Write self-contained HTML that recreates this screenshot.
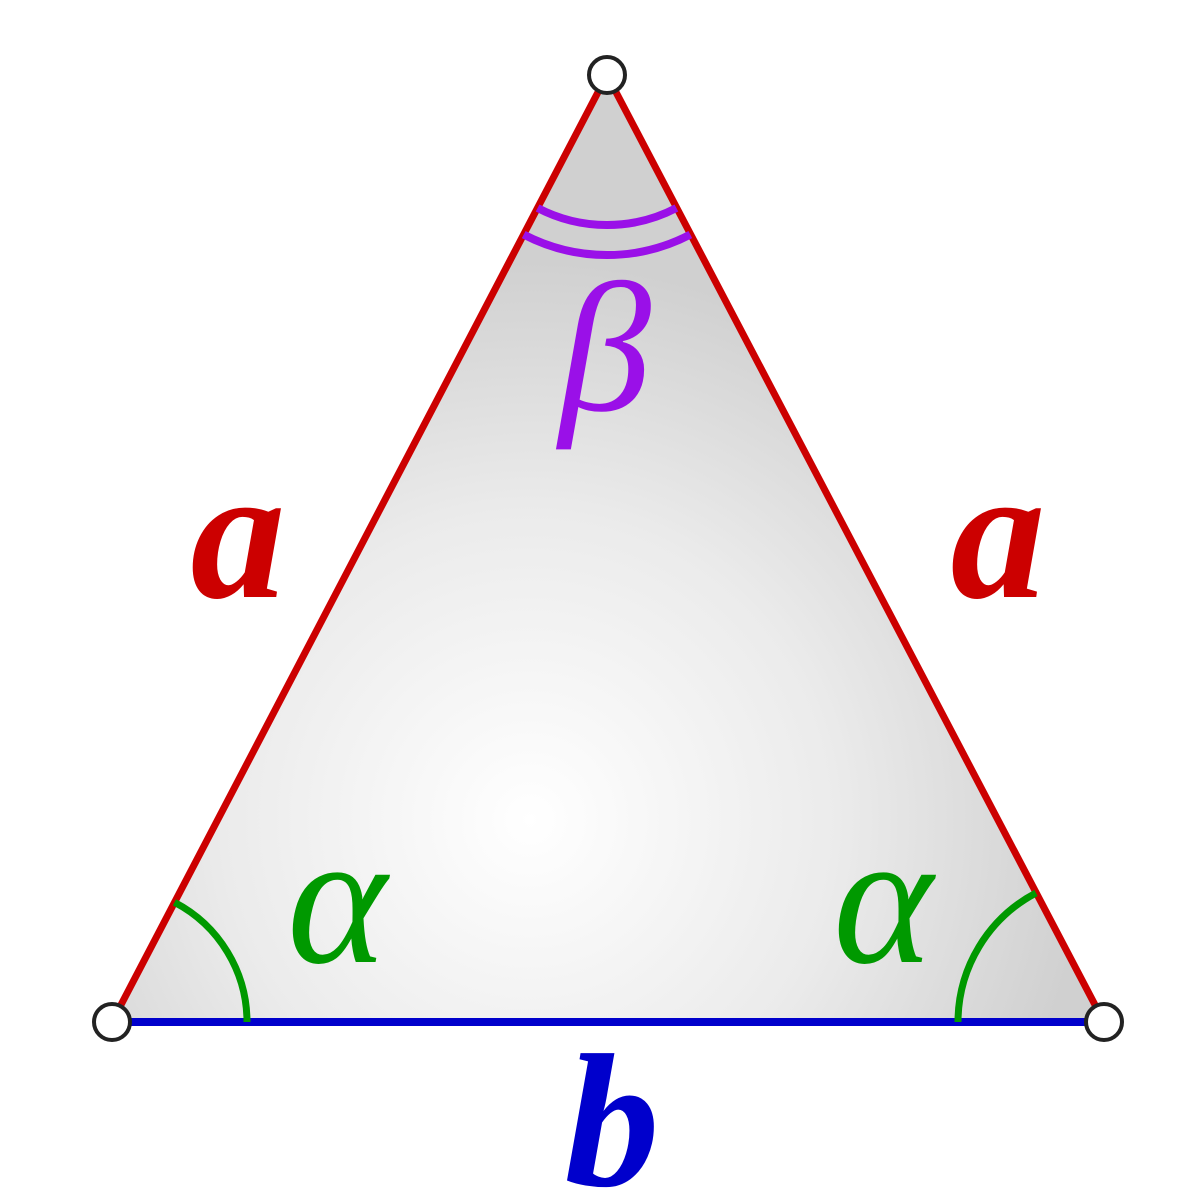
<!DOCTYPE html>
<html><head><meta charset="utf-8"><style>
html,body{margin:0;padding:0;background:#fff;}
svg{display:block;}
text{font-family:"Liberation Serif",serif;font-style:italic;font-weight:bold;}
</style></head><body>
<svg width="1200" height="1200" viewBox="0 0 1200 1200">
<defs>
<radialGradient id="g" cx="530" cy="820" r="560" gradientUnits="userSpaceOnUse">
<stop offset="0" stop-color="#ffffff"/>
<stop offset="0.55" stop-color="#ebebeb"/>
<stop offset="1" stop-color="#d0d0d0"/>
</radialGradient>
</defs>
<polygon points="607,75 112,1022 1104,1022" fill="url(#g)"/>
<line x1="607" y1="75" x2="112" y2="1022" stroke="#cc0000" stroke-width="7"/>
<line x1="607" y1="75" x2="1104" y2="1022" stroke="#cc0000" stroke-width="7"/>
<line x1="112" y1="1022" x2="1104" y2="1022" stroke="#0000cc" stroke-width="8"/>
<path d="M174.5,902.3 A135,135 0 0 1 247,1022" fill="none" stroke="#009900" stroke-width="7"/>
<path d="M1036,893 A146,146 0 0 0 958,1022" fill="none" stroke="#009900" stroke-width="7"/>
<path d="M537.6,208 A150,150 0 0 0 676.4,208" fill="none" stroke="#9a10e8" stroke-width="8"/>
<path d="M523.7,234.6 A180,180 0 0 0 690.3,234.6" fill="none" stroke="#9a10e8" stroke-width="8"/>
<circle cx="607" cy="75" r="18" fill="#fff" stroke="#222" stroke-width="4"/>
<circle cx="112" cy="1022" r="18" fill="#fff" stroke="#222" stroke-width="4"/>
<circle cx="1104" cy="1022" r="18" fill="#fff" stroke="#222" stroke-width="4"/>
<text x="238" y="597" font-size="190" fill="#cc0000" text-anchor="middle">a</text>
<text x="998" y="597" font-size="190" fill="#cc0000" text-anchor="middle">a</text>
<text x="605" y="410" font-size="185" fill="#9a10e8" text-anchor="middle" style="font-weight:normal">β</text>
<text x="337" y="962" font-size="190" fill="#009900" text-anchor="middle" style="font-weight:normal">α</text>
<text x="883" y="962" font-size="190" fill="#009900" text-anchor="middle" style="font-weight:normal">α</text>
<text x="612" y="1185" font-size="190" fill="#0000cc" text-anchor="middle">b</text>
</svg>
</body></html>
